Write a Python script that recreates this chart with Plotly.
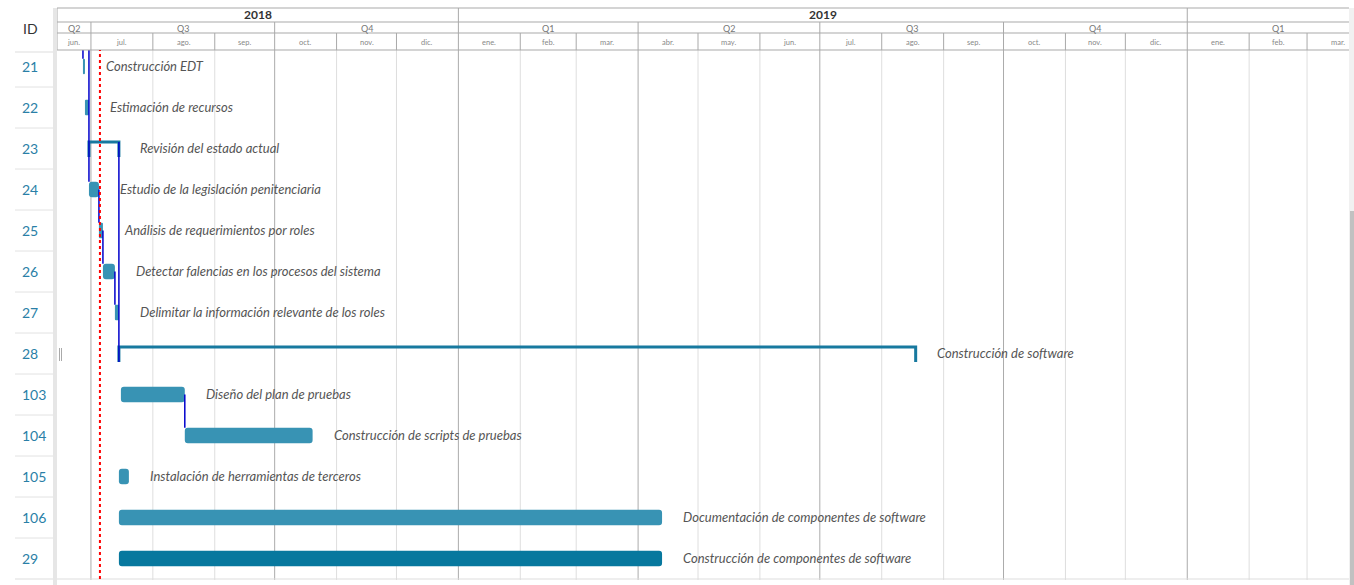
import plotly.graph_objects as go
import pandas as pd

# ---------------- data ----------------
ids = ["21", "22", "23", "24", "25", "26", "27", "28", "103", "104", "105", "106", "29"]
names = ["Construcción EDT", "Estimación de recursos", "Revisión del estado actual",
         "Estudio de la legislación penitenciaria", "Análisis de requerimientos por roles",
         "Detectar falencias en los procesos del sistema",
         "Delimitar la información relevante de los roles", "Construcción de software",
         "Diseño del plan de pruebas", "Construcción de scripts de pruebas",
         "Instalación de herramientas de terceros",
         "Documentación de componentes de software",
         "Construcción de componentes de software"]
starts = ["2018-06-27", "2018-06-28", "2018-06-30", "2018-06-30", "2018-07-05", "2018-07-07",
          "2018-07-13", "2018-07-15", "2018-07-16", "2018-08-17", "2018-07-15", "2018-07-15",
          "2018-07-15"]
ends = ["2018-06-28", "2018-06-30", "2018-07-15", "2018-07-05", "2018-07-07", "2018-07-13",
        "2018-07-15", "2019-08-18", "2018-08-17", "2018-10-20", "2018-07-20", "2019-04-13",
        "2019-04-13"]
kinds = ["task", "task", "summary", "task", "task", "task", "task", "summary",
         "task", "task", "task", "task", "critical"]
# dependencies: (predecessor row or None for off-screen, successor row)
deps = [(None, 0), (None, 3), (3, 4), (4, 5), (5, 6), (2, 7), (8, 9)]
today = "2018-07-05 12:00"
view_start, view_end = "2018-06-14", "2020-03-22"
label_end = "2020-04-01"
month_names = ["ene.", "feb.", "mar.", "abr.", "may.", "jun.", "jul.", "ago.", "sep.",
               "oct.", "nov.", "dic."]

# ---------------- layout geometry ----------------
W, H = 1354, 585
ML, MR, MT, MB = 57, 5, 50, 5
PW = W - ML - MR
PH = H - MT - MB
ROW = 41.0
C0 = 66.5  # pixel y of first row center
y_top = (MT - C0) / ROW
y_bot = (H - MB - C0) / ROW


def py(p):  # pixel y -> paper y
    return (H - MB - p) / PH


def px(p):  # pixel x -> paper x
    return (p - ML) / PW


LIGHT = "#3893b4"
DARK = "#07789e"
SUMC = "#17799f"
DEPC = "#0000cc"
GRID_L = "#dedede"
GRID_D = "#ababab"
HDR = "#a9a9a9"
FONT = "Lato"

fig = go.Figure()

s_dt = pd.to_datetime(pd.Series(starts))
e_dt = pd.to_datetime(pd.Series(ends))
dur = ((e_dt - s_dt).dt.total_seconds() * 1000).tolist()

for kind, col in [("task", LIGHT), ("critical", DARK)]:
    idx = [i for i, k in enumerate(kinds) if k == kind]
    fig.add_trace(go.Bar(
        orientation="h", y=idx, base=[starts[i] for i in idx], x=[dur[i] for i in idx],
        width=0.38, marker=dict(color=col, line=dict(width=0)),
        hoverinfo="skip", showlegend=False))

# summary bars
for i, k in enumerate(kinds):
    if k == "summary":
        fig.add_trace(go.Scatter(
            x=[starts[i], starts[i], ends[i], ends[i]],
            y=[i + 0.21, i - 0.16, i - 0.16, i + 0.21],
            mode="lines", line=dict(color=SUMC, width=3),
            hoverinfo="skip", showlegend=False))

# dependency lines
for pre, suc in deps:
    if pre is None:
        xx = starts[suc]
        y0 = y_top
    else:
        xx = ends[pre]
        y0 = pre - 0.16 if kinds[pre] == "summary" else pre
    y1 = suc + 0.21 if kinds[suc] == "summary" else suc - 0.19
    fig.add_trace(go.Scatter(x=[xx, xx], y=[y0, y1], mode="lines",
                             line=dict(color=DEPC, width=1.5),
                             hoverinfo="skip", showlegend=False))

shapes = []
annotations = []

# month / quarter / year grid + header
months = pd.date_range("2018-06-01", "2020-04-01", freq="MS")
vs, ve, le = pd.Timestamp(view_start), pd.Timestamp(view_end), pd.Timestamp(label_end)
for m in months:
    if vs < m < ve:
        is_q = m.month in (1, 4, 7, 10)
        is_y = m.month == 1
        shapes.append(dict(type="line", xref="x", yref="paper", x0=m, x1=m, y0=0, y1=1,
                           line=dict(color=GRID_D if is_q else GRID_L, width=1), layer="below"))
        top = 8 if is_y else (22 if is_q else 33)
        shapes.append(dict(type="line", xref="x", yref="paper", x0=m, x1=m,
                           y0=py(50), y1=py(top), line=dict(color=HDR, width=1)))
# month labels
for m in months[:-1]:
    a = max(m, vs)
    b = min(m + pd.offsets.MonthBegin(1), le)
    if a >= ve:
        continue
    mid = a + (b - a) / 2
    annotations.append(dict(x=mid, y=py(42), xref="x", yref="paper", showarrow=False,
                            xanchor="center", yanchor="middle",
                            text=month_names[m.month - 1],
                            font=dict(family=FONT, size=7.5, color="#888888")))
# quarter labels
for q in pd.date_range("2018-04-01", "2020-01-01", freq="QS"):
    a = max(q, vs)
    b = min(q + pd.offsets.QuarterBegin(1, startingMonth=1), le)
    mid = a + (b - a) / 2
    annotations.append(dict(x=mid, y=py(28), xref="x", yref="paper", showarrow=False,
                            xanchor="center", yanchor="middle",
                            text="Q%d" % ((q.month - 1) // 3 + 1),
                            font=dict(family=FONT, size=9, color="#777777")))
# year labels
for yr in [2018, 2019]:
    a = max(pd.Timestamp(f"{yr}-01-01"), vs)
    b = pd.Timestamp(f"{yr + 1}-01-01")
    mid = a + (b - a) / 2
    annotations.append(dict(x=mid, y=py(15), xref="x", yref="paper", showarrow=False,
                            xanchor="center", yanchor="middle",
                            text=str(yr),
                            font=dict(family=FONT, size=12, color="#333333", weight="bold")))

# header horizontal lines and left border
for yy in [8, 22, 33, 50]:
    shapes.append(dict(type="line", xref="paper", yref="paper", x0=0, x1=px(1349),
                       y0=py(yy), y1=py(yy), line=dict(color=HDR, width=1)))
shapes.append(dict(type="line", xref="paper", yref="paper", x0=0, x1=0,
                   y0=py(50), y1=py(8), line=dict(color=HDR, width=1)))
# bottom border
shapes.append(dict(type="line", xref="paper", yref="paper", x0=px(15), x1=px(1349),
                   y0=py(579), y1=py(579), line=dict(color="#dddddd", width=1)))
# ID column separators
shapes.append(dict(type="line", xref="paper", yref="paper", x0=px(15), x1=px(53),
                   y0=py(52), y1=py(52), line=dict(color="#dddddd", width=1)))
for k in range(1, 13):
    yy = C0 - ROW / 2 + ROW * k
    shapes.append(dict(type="line", xref="paper", yref="paper", x0=px(15), x1=px(53),
                       y0=py(yy), y1=py(yy), line=dict(color="#e2e2e2", width=1)))
# left strip
shapes.append(dict(type="rect", xref="paper", yref="paper", x0=px(53), x1=px(57),
                   y0=py(585), y1=py(8), fillcolor="#e6e6e6", line=dict(width=0)))
# grip
for gx in [59.5, 61.5]:
    shapes.append(dict(type="line", xref="paper", yref="paper", x0=px(gx), x1=px(gx),
                       y0=py(361), y1=py(348), line=dict(color="#aaaaaa", width=1)))
# scrollbar
shapes.append(dict(type="rect", xref="paper", yref="paper", x0=px(1349), x1=px(1354),
                   y0=py(585), y1=py(8), fillcolor="#f1f1f1", line=dict(width=0)))
shapes.append(dict(type="rect", xref="paper", yref="paper", x0=px(1350), x1=px(1354),
                   y0=py(585), y1=py(211), fillcolor="#c1c1c1", line=dict(width=0)))
# today line
shapes.append(dict(type="line", xref="x", yref="paper", x0=today, x1=today, y0=py(579),
                   y1=1, line=dict(color="#ff0000", width=2, dash="dot")))

# ID header and IDs
annotations.append(dict(x=px(21), y=py(29), xref="paper", yref="paper", showarrow=False,
                        xanchor="left", yanchor="middle", text="ID",
                        font=dict(family=FONT, size=14, color="#333333")))
for i, t in enumerate(ids):
    annotations.append(dict(x=px(20), y=i, xref="paper", yref="y", showarrow=False,
                            xanchor="left", yanchor="middle", text=t,
                            font=dict(family=FONT, size=14, color="#2a7fa7")))
# task labels
for i, t in enumerate(names):
    annotations.append(dict(x=ends[i], y=i, xref="x", yref="y", showarrow=False,
                            xanchor="left", yanchor="middle", xshift=19, yshift=1, text=t,
                            font=dict(family=FONT, size=13, color="#555555",
                                      style="italic")))

fig.update_layout(
    width=W, height=H, margin=dict(l=ML, r=MR, t=MT, b=MB),
    paper_bgcolor="white", plot_bgcolor="white",
    barmode="overlay", barcornerradius=3,
    xaxis=dict(type="date", range=[view_start, view_end], showgrid=False,
               showticklabels=False, zeroline=False, showline=False, ticks=""),
    yaxis=dict(range=[y_bot, y_top], showgrid=False, showticklabels=False,
               zeroline=False, showline=False, ticks=""),
    shapes=shapes, annotations=annotations, showlegend=False,
)

fig.write_html("out.html", config={"displayModeBar": False},
               post_script="document.body.style.margin='0';document.body.style.overflow='hidden';")
